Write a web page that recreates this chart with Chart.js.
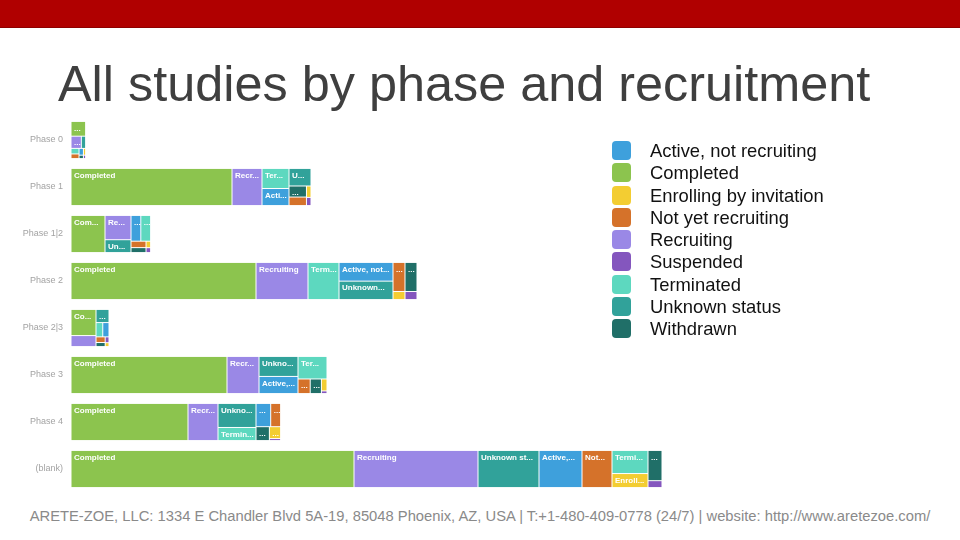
<!DOCTYPE html>
<html>
<head>
    <title>All studies by phase and recruitment</title>
    <script src="https://cdn.jsdelivr.net/npm/chart.js"></script>
    <style>
        body {
            margin: 0;
            width: 960px;
            height: 540px;
            position: relative;
            overflow: hidden;
            background-color: #fff;
            font-family: Arial, "Liberation Sans", sans-serif;
        }
        .banner {
            position: absolute;
            left: 0; top: 0;
            width: 960px; height: 27px;
            background-color: #b00000;
            border-bottom: 1px solid #8e0000;
        }
        h1 {
            position: absolute;
            left: 58px; top: 59px;
            margin: 0;
            font-size: 50.4px;
            line-height: 50px;
            font-weight: normal;
            color: #3f3f3f;
            white-space: nowrap;
        }
        .chart-container {
            position: absolute;
            left: 0; top: 109px;
            width: 700px; height: 390px;
        }
        .legend {
            position: absolute;
            left: 612px; top: 140px;
        }
        .legend div {
            position: relative;
            height: 22.25px;
            line-height: 22.25px;
            padding-left: 38px;
            font-size: 18.4px;
            color: #111;
            white-space: nowrap;
        }
        .legend span {
            position: absolute;
            left: 0; top: 1px;
            width: 19px; height: 19px;
            border-radius: 4px;
        }
        .footer {
            position: absolute;
            left: 0; top: 509px;
            width: 960px;
            text-align: center;
            font-size: 14.75px;
            line-height: 15px;
            color: #8a8a8a;
            white-space: nowrap;
        }
    </style>
</head>
<body>
    <div class="banner"></div>
    <h1>All studies by phase and recruitment</h1>
    <div class="chart-container">
        <canvas id="phaseChart"></canvas>
    </div>
    <div class="legend" id="legend"></div>
    <div class="footer">ARETE-ZOE, LLC: 1334 E Chandler Blvd 5A-19, 85048 Phoenix, AZ, USA | T:+1-480-409-0778 (24/7) | website: http://www.aretezoe.com/</div>

    <script>
        const phases = ['Phase 0', 'Phase 1', 'Phase 1|2', 'Phase 2', 'Phase 2|3', 'Phase 3', 'Phase 4', '(blank)'];
        const statuses = ['Active, not recruiting', 'Completed', 'Enrolling by invitation', 'Not yet recruiting',
            'Recruiting', 'Suspended', 'Terminated', 'Unknown status', 'Withdrawn'];
        const colors = ['#3ea0dc', '#8cc44e', '#f3cd32', '#d5722a', '#9a88e6', '#8456be', '#5dd8bf', '#31a29a', '#206f68'];

        // study counts per phase (same order as phases)
        const activeNotRecruiting = [4, 62, 34, 136, 12, 90, 46, 215];
        const completed = [29, 805, 170, 925, 88, 780, 585, 1415];
        const enrollingByInvitation = [2, 7, 4, 13, 2, 9, 18, 68];
        const notYetRecruiting = [5, 20, 13, 47, 7, 24, 31, 150];
        const recruiting = [17, 150, 85, 260, 37, 160, 150, 620];
        const suspended = [1, 5, 3, 13, 3, 2, 3, 13];
        const terminated = [6, 73, 34, 155, 13, 88, 67, 112];
        const unknownStatus = [7, 52, 45, 134, 23, 105, 123, 305];
        const withdrawn = [2, 26, 10, 47, 5, 22, 25, 57];

        const series = [activeNotRecruiting, completed, enrollingByInvitation, notYetRecruiting,
            recruiting, suspended, terminated, unknownStatus, withdrawn];
        const totals = phases.map((p, i) => series.reduce((a, s) => a + s[i], 0));

        // squarified treemap (golden ratio target, like d3) inside one phase band
        const PHI = (1 + Math.sqrt(5)) / 2;
        function squarify(nodes, x0, y0, x1, y1) {
            const out = [];
            const n = nodes.length;
            let value = nodes.reduce((a, d) => a + d.v, 0);
            let i0 = 0, i1 = 0;
            while (i0 < n) {
                const dx = x1 - x0, dy = y1 - y0;
                let sumValue = nodes[i1++].v;
                let minValue = sumValue, maxValue = sumValue;
                const alpha = Math.max(dy / dx, dx / dy) / (value * PHI);
                let beta = sumValue * sumValue * alpha;
                let minRatio = Math.max(maxValue / beta, beta / minValue);
                for (; i1 < n; ++i1) {
                    const nv = nodes[i1].v;
                    sumValue += nv;
                    if (nv < minValue) minValue = nv;
                    if (nv > maxValue) maxValue = nv;
                    beta = sumValue * sumValue * alpha;
                    const newRatio = Math.max(maxValue / beta, beta / minValue);
                    if (newRatio > minRatio) { sumValue -= nv; break; }
                    minRatio = newRatio;
                }
                const row = nodes.slice(i0, i1);
                if (dx < dy) {
                    const ny = y0 + dy * sumValue / value;
                    let xx = x0;
                    row.forEach(d => {
                        const w = dx * d.v / sumValue;
                        out.push({j: d.j, x: xx, y: y0, w: w, h: ny - y0});
                        xx += w;
                    });
                    y0 = ny;
                } else {
                    const nx = x0 + dx * sumValue / value;
                    let yy = y0;
                    row.forEach(d => {
                        const h = dy * d.v / sumValue;
                        out.push({j: d.j, x: x0, y: yy, w: nx - x0, h: h});
                        yy += h;
                    });
                    x0 = nx;
                }
                value -= sumValue;
                i0 = i1;
            }
            return out;
        }

        function fitLabel(ctx, text, room) {
            if (ctx.measureText(text).width <= room) return text;
            let t = text;
            while (t.length && ctx.measureText(t + '...').width > room) t = t.slice(0, -1);
            return t.length ? t.trimEnd() + '...' : '...';
        }

        const treemapRows = {
            id: 'treemapRows',
            beforeDatasetsDraw(chart) {
                const ctx = chart.ctx;
                const xs = chart.scales.x;
                const bars = chart.getDatasetMeta(0).data;
                ctx.save();
                phases.forEach((p, i) => {
                    const bar = bars[i];
                    const x0 = xs.getPixelForValue(0);
                    const x1 = xs.getPixelForValue(totals[i]);
                    const h = bar.height;
                    const nodes = series.map((s, j) => ({j: j, v: s[i]}))
                        .filter(d => d.v > 0)
                        .sort((a, b) => b.v - a.v);
                    const cells = squarify(nodes, x0, bar.y - h / 2, x1, bar.y + h / 2);
                    cells.forEach(c => {
                        ctx.fillStyle = colors[c.j];
                        ctx.fillRect(c.x + 0.5, c.y + 0.5, c.w - 1, c.h - 1);
                    });
                    ctx.font = 'bold 8px Arial, "Liberation Sans", sans-serif';
                    ctx.fillStyle = '#fff';
                    ctx.textBaseline = 'top';
                    cells.forEach(c => {
                        if (c.w < 9 || c.h < 11) return;
                        const label = fitLabel(ctx, statuses[c.j], c.w - 5);
                        if (ctx.measureText(label).width > c.w - 3) return;
                        ctx.fillText(label, c.x + 3, c.y + 3);
                    });
                });
                ctx.restore();
                return false;
            }
        };

        new Chart(document.getElementById('phaseChart'), {
            type: 'bar',
            data: {
                labels: phases,
                datasets: statuses.map((s, j) => ({
                    label: s,
                    data: series[j],
                    backgroundColor: colors[j],
                    barPercentage: 0.79,
                    categoryPercentage: 1
                }))
            },
            options: {
                indexAxis: 'y',
                responsive: true,
                maintainAspectRatio: false,
                animation: false,
                layout: {
                    padding: {top: 7.5, bottom: 6.5, left: 0, right: 38}
                },
                scales: {
                    x: {
                        stacked: true,
                        display: false,
                        min: 0,
                        max: Math.max(...totals)
                    },
                    y: {
                        stacked: true,
                        grid: {display: false, drawTicks: false},
                        border: {display: false},
                        ticks: {
                            color: '#a3a3a3',
                            padding: 8,
                            font: {family: 'Arial', size: 9}
                        },
                        afterFit(scale) {
                            scale.width = 71;
                            scale.paddingTop = 0;
                            scale.paddingBottom = 0;
                        }
                    }
                },
                plugins: {
                    legend: {display: false},
                    tooltip: {enabled: false}
                }
            },
            plugins: [treemapRows]
        });

        // legend
        const legend = document.getElementById('legend');
        statuses.forEach((s, j) => {
            const item = document.createElement('div');
            const box = document.createElement('span');
            box.style.backgroundColor = colors[j];
            item.appendChild(box);
            item.appendChild(document.createTextNode(s));
            legend.appendChild(item);
        });
    </script>
</body>
</html>
